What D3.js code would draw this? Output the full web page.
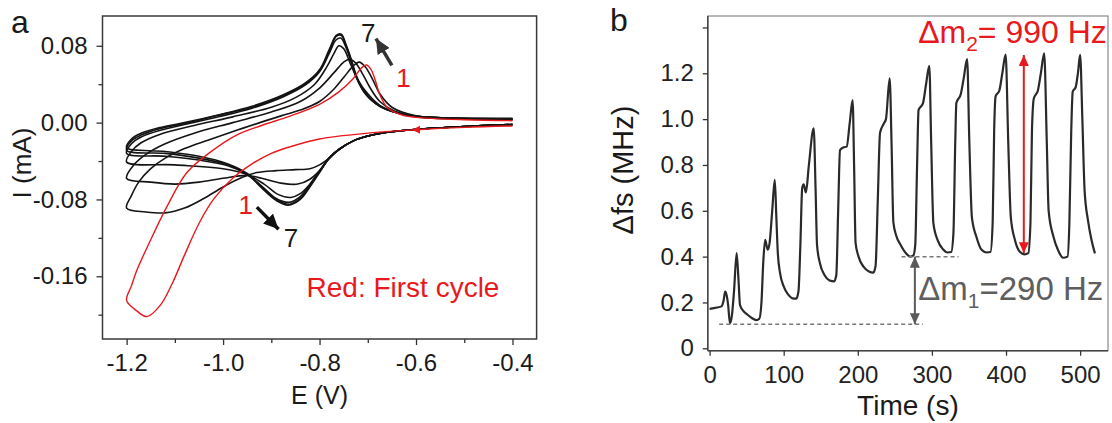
<!DOCTYPE html>
<html>
<head>
<meta charset="utf-8">
<script src="https://cdn.jsdelivr.net/npm/d3@7"></script>
<style>
  body { margin: 0; background: #fff; }
  svg { font-family: "Liberation Sans", Arial, sans-serif; }
</style>
</head>
<body>
<div id="wrapper"></div>
<script>
// ---------- panel a : cyclic voltammograms, [E (V), I (mA)] in scan order ----------
const blackFwdStart = [[-0.40,-0.002],[-0.50,-0.004],[-0.60,-0.007],[-0.66,-0.010],[-0.70,-0.014],[-0.73,-0.019],[-0.76,-0.028],[-0.78,-0.037]];

const cycle1 = [[-0.40,-0.0035],[-0.50,-0.005],[-0.60,-0.0075],[-0.70,-0.011],[-0.80,-0.017],[-0.86,-0.025],[-0.90,-0.032],[-0.94,-0.043],[-0.98,-0.058],[-1.02,-0.080],[-1.05,-0.105],[-1.08,-0.138],[-1.105,-0.167],[-1.13,-0.190],[-1.158,-0.202],[-1.179,-0.196],[-1.20,-0.185],
  [-1.19,-0.170],[-1.179,-0.154],[-1.151,-0.123],[-1.117,-0.088],[-1.075,-0.052],[-1.027,-0.031],[-0.972,-0.013],[-0.92,-0.003],[-0.86,0.007],[-0.80,0.019],[-0.76,0.032],[-0.73,0.046],[-0.713,0.057],[-0.703,0.060],[-0.694,0.056],[-0.685,0.045],[-0.675,0.029],[-0.66,0.016],[-0.63,0.008],[-0.60,0.0055],[-0.50,0.003],[-0.40,0.002]];

const cycle2 = [[-0.80,-0.044],[-0.82,-0.048],[-0.85,-0.049],[-0.89,-0.050],[-0.93,-0.052],[-0.96,-0.057],[-1.00,-0.067],[-1.04,-0.079],[-1.08,-0.089],[-1.12,-0.094],[-1.16,-0.093],[-1.20,-0.089],
  [-1.19,-0.076],[-1.175,-0.062],[-1.15,-0.048],[-1.12,-0.037],[-1.08,-0.027],[-1.03,-0.018],[-0.96,-0.006],[-0.88,0.007],[-0.84,0.013],[-0.80,0.022],[-0.77,0.035],[-0.75,0.047],[-0.73,0.059],[-0.718,0.063],[-0.705,0.058],[-0.69,0.045],[-0.675,0.030],[-0.65,0.016],[-0.60,0.007],[-0.50,0.004],[-0.40,0.003]];

const cycle3 = [[-0.80,-0.050],[-0.82,-0.059],[-0.845,-0.064],[-0.88,-0.063],[-0.92,-0.058],[-0.95,-0.055],[-1.00,-0.058],[-1.05,-0.062],[-1.10,-0.064],[-1.15,-0.062],[-1.20,-0.058],
  [-1.185,-0.044],[-1.16,-0.033],[-1.12,-0.022],[-1.06,-0.011],[-0.98,0.000],[-0.90,0.011],[-0.84,0.022],[-0.80,0.036],[-0.77,0.052],[-0.75,0.063],[-0.738,0.066],[-0.725,0.062],[-0.71,0.050],[-0.695,0.036],[-0.675,0.022],[-0.645,0.012],[-0.60,0.006],[-0.50,0.004],[-0.40,0.003]];

const cycle4 = [[-0.80,-0.050],[-0.82,-0.064],[-0.84,-0.074],[-0.86,-0.078],[-0.885,-0.075],[-0.915,-0.064],[-0.95,-0.054],[-1.00,-0.048],[-1.10,-0.044],[-1.20,-0.041],
  [-1.19,-0.030],[-1.17,-0.021],[-1.13,-0.012],[-1.06,-0.003],[-0.98,0.006],[-0.90,0.016],[-0.85,0.026],[-0.81,0.040],[-0.785,0.058],[-0.77,0.072],[-0.76,0.080],[-0.75,0.077],[-0.735,0.060],[-0.72,0.044],[-0.70,0.030],[-0.675,0.018],[-0.63,0.009],[-0.55,0.005],[-0.40,0.0035]];

const cycle5 = [[-0.80,-0.051],[-0.82,-0.065],[-0.84,-0.077],[-0.863,-0.083],[-0.89,-0.079],[-0.92,-0.066],[-0.95,-0.054],[-0.99,-0.045],[-1.05,-0.039],[-1.12,-0.035],[-1.20,-0.032],
  [-1.19,-0.022],[-1.17,-0.015],[-1.13,-0.008],[-1.08,-0.002],[-1.01,0.006],[-0.94,0.015],[-0.875,0.027],[-0.83,0.039],[-0.80,0.053],[-0.78,0.072],[-0.766,0.086],[-0.756,0.088],[-0.745,0.078],[-0.735,0.064],[-0.723,0.046],[-0.705,0.030],[-0.675,0.017],[-0.62,0.008],[-0.54,0.005],[-0.40,0.004]];

const cycle6 = [[-0.80,-0.051],[-0.82,-0.066],[-0.84,-0.079],[-0.863,-0.085],[-0.89,-0.080],[-0.92,-0.067],[-0.95,-0.054],[-0.99,-0.044],[-1.05,-0.037],[-1.12,-0.032],[-1.20,-0.029],
  [-1.19,-0.019],[-1.17,-0.013],[-1.13,-0.006],[-1.08,-0.001],[-1.01,0.0076],[-0.94,0.016],[-0.875,0.028],[-0.83,0.040],[-0.80,0.054],[-0.78,0.074],[-0.765,0.090],[-0.755,0.091],[-0.745,0.080],[-0.735,0.066],[-0.723,0.047],[-0.705,0.030],[-0.675,0.017],[-0.62,0.008],[-0.54,0.005],[-0.40,0.004]];

const cycle7 = [[-0.80,-0.052],[-0.82,-0.067],[-0.84,-0.080],[-0.865,-0.086],[-0.89,-0.081],[-0.92,-0.068],[-0.95,-0.053],[-0.99,-0.043],[-1.05,-0.035],[-1.12,-0.030],[-1.20,-0.026],
  [-1.19,-0.017],[-1.17,-0.011],[-1.13,-0.005],[-1.08,0.000],[-1.01,0.008],[-0.94,0.017],[-0.875,0.029],[-0.83,0.041],[-0.80,0.055],[-0.78,0.076],[-0.765,0.091],[-0.755,0.092],[-0.745,0.081],[-0.735,0.067],[-0.723,0.048],[-0.705,0.031],[-0.675,0.017],[-0.62,0.008],[-0.54,0.005],[-0.40,0.0045]];

const blackCycles = [cycle2, cycle3, cycle4, cycle5, cycle6, cycle7];

const eTicks = [-1.2, -1.0, -0.8, -0.6, -0.4];
const eTickLabels = ["-1.2", "-1.0", "-0.8", "-0.6", "-0.4"];
const eMinor = [-1.1, -0.9, -0.7, -0.5];
const iTicks = [0.08, 0.00, -0.08, -0.16];
const iTickLabels = ["0.08", "0.00", "-0.08", "-0.16"];
const iMinor = [0.04, -0.04, -0.12, -0.20];

// ---------- panel b : EQCM frequency trace, [time (s), Δfs (MHz)] ----------
const freqTrace = [[0,0.172],[10,0.178],[16,0.183],[19,0.21],[21,0.247],[23,0.232],[25,0.19],[27.5,0.109],[30,0.14],[33,0.25],[36.5,0.415],[39,0.30],[41,0.19],[45,0.165],[50,0.15],[57,0.132],[63,0.123],[67,0.128],[70,0.2],[72.5,0.38],[75,0.473],[78.5,0.43],[81,0.46],[84.5,0.6],[88,0.735],[90,0.58],[92,0.42],[95,0.33],[100,0.27],[106,0.235],[112,0.218],[117,0.217],[120,0.25],[122.5,0.45],[125,0.70],[127,0.715],[130,0.68],[134,0.80],[140.5,0.96],[143,0.70],[145,0.45],[149,0.37],[155,0.32],[162,0.296],[168,0.292],[171,0.32],[173.5,0.6],[176,0.865],[181,0.877],[185,0.88],[189,0.98],[193,1.083],[195,0.8],[197,0.46],[201,0.40],[208,0.355],[215,0.335],[221,0.33],[224,0.36],[227,0.65],[230,0.94],[235,0.98],[238,1.0],[243,1.178],[245.5,0.9],[248,0.55],[252,0.49],[258,0.45],[265,0.415],[271,0.400],[275,0.405],[277.5,0.45],[280,0.8],[282,1.04],[288,1.07],[292,1.15],[296.5,1.232],[299,0.9],[302,0.545],[308,0.47],[315,0.432],[321,0.418],[326,0.42],[329,0.5],[331.5,0.9],[333,1.07],[339,1.11],[343,1.18],[347.5,1.262],[350.5,0.9],[354,0.57],[360,0.487],[367,0.43],[374,0.418],[379,0.42],[382,0.55],[384,0.95],[386,1.10],[391,1.125],[395,1.2],[399.5,1.282],[403,0.9],[406.5,0.57],[412,0.473],[419,0.42],[425,0.41],[430,0.415],[433,0.55],[435,0.95],[437.5,1.09],[443,1.125],[447,1.2],[451.5,1.287],[455,0.9],[457.5,0.6],[464,0.487],[470,0.43],[477,0.395],[483,0.40],[485.5,0.55],[488,0.95],[490,1.12],[494,1.14],[497,1.2],[500,1.28],[503,1.0],[506,0.69],[510.5,0.56],[515.5,0.47],[520,0.414]];

const tTicks = [0, 100, 200, 300, 400, 500];
const tTickLabels = ["0", "100", "200", "300", "400", "500"];
const fTicks = [0, 0.2, 0.4, 0.6, 0.8, 1.0, 1.2, 1.4];
const fTickLabels = ["0", "0.2", "0.4", "0.6", "0.8", "1.0", "1.2", ""];

const m1Low = 0.105, m1High = 0.40, m1Time = 277;   // Δm1 = 290 Hz
const m2Low = 0.415, m2High = 1.28, m2Time = 424;   // Δm2 = 990 Hz

// ---------- layout ----------
const W = 1112, H = 423;
const red = "#e8191d";
const dimsA = { left: 102.5, right: 536.6, top: 16, bottom: 339 };
const dimsB = { left: 707.8, right: 1108, top: 16, bottom: 350.7 };

const svg = d3.select("#wrapper").append("svg")
  .attr("width", W)
  .attr("height", H);

const defs = svg.append("defs");
function addHead(id, color, len, wid) {
  defs.append("marker")
    .attr("id", id)
    .attr("viewBox", `0 0 ${len} ${wid}`)
    .attr("refX", len).attr("refY", wid / 2)
    .attr("markerWidth", len).attr("markerHeight", wid)
    .attr("markerUnits", "userSpaceOnUse")
    .attr("orient", "auto-start-reverse")
    .append("path")
    .attr("d", `M0,0L${len},${wid / 2}L0,${wid}z`)
    .attr("fill", color);
}
addHead("headRed", red, 11, 10);
addHead("headGray", "#5a5a5a", 11, 10);
addHead("headBlack", "#111", 15, 14);
addHead("headDark", "#333", 15, 14);

function styleTicks(g, size, color) {
  g.select(".domain").remove();
  g.selectAll(".tick line").attr("stroke", "#333").attr("stroke-width", 1.3);
  g.selectAll(".tick text").attr("font-size", size).attr("fill", color);
}

// ================= panel a =================
const xA = d3.scaleLinear().domain([-1.25, -0.35]).range([dimsA.left, dimsA.right]);
const yA = d3.scaleLinear().domain([-0.2253, 0.111]).range([dimsA.bottom, dimsA.top]);

const lineA = d3.line()
  .x(d => xA(d[0]))
  .y(d => yA(d[1]))
  .curve(d3.curveCatmullRom.alpha(0.5));

const plotA = svg.append("g");
blackCycles.forEach(c => {
  plotA.append("path")
    .attr("d", lineA(blackFwdStart.concat(c)))
    .attr("fill", "none")
    .attr("stroke", "#141414")
    .attr("stroke-width", 1.6);
});
plotA.append("path")
  .attr("d", lineA(cycle1))
  .attr("fill", "none")
  .attr("stroke", red)
  .attr("stroke-width", 1.4);

// small direction marker on the first cycle
plotA.append("path")
  .attr("d", `M${xA(-0.6) - 4},${yA(-0.0075)}l8,-4l0,8z`)
  .attr("fill", red);

svg.append("rect")
  .attr("x", dimsA.left).attr("y", dimsA.top)
  .attr("width", dimsA.right - dimsA.left)
  .attr("height", dimsA.bottom - dimsA.top)
  .attr("fill", "none").attr("stroke", "#3a3a3a").attr("stroke-width", 1.5);

svg.append("g")
  .attr("transform", `translate(0,${dimsA.bottom})`)
  .call(d3.axisBottom(xA).tickValues(eTicks).tickFormat((d, i) => eTickLabels[i]).tickSize(6).tickPadding(9))
  .call(g => styleTicks(g, 24, "#1a1a1a"));
svg.append("g")
  .attr("transform", `translate(0,${dimsA.bottom})`)
  .call(d3.axisBottom(xA).tickValues(eMinor).tickFormat("").tickSize(4))
  .call(g => styleTicks(g, 24, "#1a1a1a"));
svg.append("g")
  .attr("transform", `translate(${dimsA.left},0)`)
  .call(d3.axisLeft(yA).tickValues(iTicks).tickFormat((d, i) => iTickLabels[i]).tickSize(6).tickPadding(9))
  .call(g => styleTicks(g, 24, "#1a1a1a"));
svg.append("g")
  .attr("transform", `translate(${dimsA.left},0)`)
  .call(d3.axisLeft(yA).tickValues(iMinor).tickFormat("").tickSize(4))
  .call(g => styleTicks(g, 24, "#1a1a1a"));

svg.append("text")
  .attr("x", (dimsA.left + dimsA.right) / 2).attr("y", 404)
  .attr("text-anchor", "middle").attr("font-size", 25).attr("fill", "#1a1a1a")
  .text("E (V)");
svg.append("text")
  .attr("transform", "translate(31,163) rotate(-90)")
  .attr("text-anchor", "middle").attr("font-size", 26).attr("fill", "#1a1a1a")
  .text("I (mA)");
svg.append("text")
  .attr("x", 11).attr("y", 33)
  .attr("font-size", 32).attr("fill", "#1a1a1a")
  .text("a");

// cycle annotations
svg.append("line")
  .attr("x1", xA(-0.650)).attr("y1", yA(0.0597))
  .attr("x2", xA(-0.683)).attr("y2", yA(0.0875))
  .attr("stroke", "#333").attr("stroke-width", 3.5)
  .attr("marker-end", "url(#headDark)");
svg.append("text")
  .attr("x", xA(-0.699)).attr("y", yA(0.084))
  .attr("text-anchor", "middle").attr("font-size", 26).attr("fill", "#1a1a1a")
  .text("7");
svg.append("text")
  .attr("x", xA(-0.626)).attr("y", yA(0.037))
  .attr("text-anchor", "middle").attr("font-size", 26).attr("fill", red)
  .text("1");

svg.append("line")
  .attr("x1", xA(-0.930)).attr("y1", yA(-0.088))
  .attr("x2", xA(-0.885)).attr("y2", yA(-0.111))
  .attr("stroke", "#111").attr("stroke-width", 3.5)
  .attr("marker-end", "url(#headBlack)");
svg.append("text")
  .attr("x", xA(-0.953)).attr("y", yA(-0.0955))
  .attr("text-anchor", "middle").attr("font-size", 26).attr("fill", red)
  .text("1");
svg.append("text")
  .attr("x", xA(-0.859)).attr("y", yA(-0.129))
  .attr("text-anchor", "middle").attr("font-size", 26).attr("fill", "#1a1a1a")
  .text("7");
svg.append("text")
  .attr("x", xA(-0.827)).attr("y", yA(-0.182))
  .attr("font-size", 28).attr("fill", red)
  .text("Red: First cycle");

// ================= panel b =================
const xB = d3.scaleLinear().domain([-2.4, 537.6]).range([dimsB.left, dimsB.right]);
const yB = d3.scaleLinear().domain([-0.0105, 1.45]).range([dimsB.bottom, dimsB.top]);

const lineB = d3.line()
  .x(d => xB(d[0]))
  .y(d => yB(d[1]))
  .curve(d3.curveMonotoneX);

svg.append("path")
  .attr("d", lineB(freqTrace))
  .attr("fill", "none")
  .attr("stroke", "#2a2a2a")
  .attr("stroke-width", 2.2);

svg.append("rect")
  .attr("x", dimsB.left).attr("y", dimsB.top)
  .attr("width", dimsB.right - dimsB.left)
  .attr("height", dimsB.bottom - dimsB.top)
  .attr("fill", "none").attr("stroke", "#8a8a8a").attr("stroke-width", 1.2);
svg.append("line")
  .attr("x1", dimsB.left).attr("x2", dimsB.left)
  .attr("y1", dimsB.top).attr("y2", dimsB.bottom)
  .attr("stroke", "#444").attr("stroke-width", 1.5);
svg.append("line")
  .attr("x1", dimsB.left).attr("x2", dimsB.right)
  .attr("y1", dimsB.bottom).attr("y2", dimsB.bottom)
  .attr("stroke", "#444").attr("stroke-width", 1.5);

svg.append("g")
  .attr("transform", `translate(0,${dimsB.bottom})`)
  .call(d3.axisBottom(xB).tickValues(tTicks).tickFormat((d, i) => tTickLabels[i]).tickSize(5).tickPadding(10))
  .call(g => styleTicks(g, 24, "#222"));
svg.append("g")
  .attr("transform", `translate(${dimsB.left},0)`)
  .call(d3.axisLeft(yB).tickValues(fTicks).tickFormat((d, i) => fTickLabels[i]).tickSize(5).tickPadding(9))
  .call(g => styleTicks(g, 24, "#222"));

svg.append("text")
  .attr("x", (dimsB.left + dimsB.right) / 2).attr("y", 415)
  .attr("text-anchor", "middle").attr("font-size", 28).attr("fill", "#1a1a1a")
  .text("Time (s)");
svg.append("text")
  .attr("transform", "translate(633,170) rotate(-90)")
  .attr("text-anchor", "middle").attr("font-size", 29).attr("fill", "#1a1a1a")
  .text("Δfs (MHz)");
svg.append("text")
  .attr("x", 610).attr("y", 31)
  .attr("font-size", 32).attr("fill", "#1a1a1a")
  .text("b");

// Δm annotations
const dash = "4,3";
svg.append("line")
  .attr("x1", xB(259)).attr("x2", xB(336))
  .attr("y1", yB(m1High)).attr("y2", yB(m1High))
  .attr("stroke", "#777").attr("stroke-width", 1.5).attr("stroke-dasharray", dash);
svg.append("line")
  .attr("x1", xB(13)).attr("x2", xB(288))
  .attr("y1", yB(m1Low)).attr("y2", yB(m1Low))
  .attr("stroke", "#777").attr("stroke-width", 1.5).attr("stroke-dasharray", dash);

svg.append("line")
  .attr("x1", xB(m1Time)).attr("x2", xB(m1Time))
  .attr("y1", yB(m1High)).attr("y2", yB(m1Low))
  .attr("stroke", "#5a5a5a").attr("stroke-width", 2)
  .attr("marker-start", "url(#headGray)")
  .attr("marker-end", "url(#headGray)");
svg.append("line")
  .attr("x1", xB(m2Time)).attr("x2", xB(m2Time))
  .attr("y1", yB(m2High)).attr("y2", yB(m2Low))
  .attr("stroke", red).attr("stroke-width", 2)
  .attr("marker-start", "url(#headRed)")
  .attr("marker-end", "url(#headRed)");

const m2Label = svg.append("text")
  .attr("x", xB(536)).attr("y", yB(1.331))
  .attr("text-anchor", "end").attr("font-size", 32).attr("fill", red);
m2Label.append("tspan").text("Δm");
m2Label.append("tspan").attr("font-size", 21).attr("dy", 8).text("2");
m2Label.append("tspan").attr("dy", -8).text("= 990 Hz");

const m1Label = svg.append("text")
  .attr("x", xB(281.6)).attr("y", yB(0.211))
  .attr("font-size", 33).attr("fill", "#5e5e5e");
m1Label.append("tspan").text("Δm");
m1Label.append("tspan").attr("font-size", 21).attr("dy", 8).text("1");
m1Label.append("tspan").attr("dy", -8).text("=290 Hz");
</script>
</body>
</html>
